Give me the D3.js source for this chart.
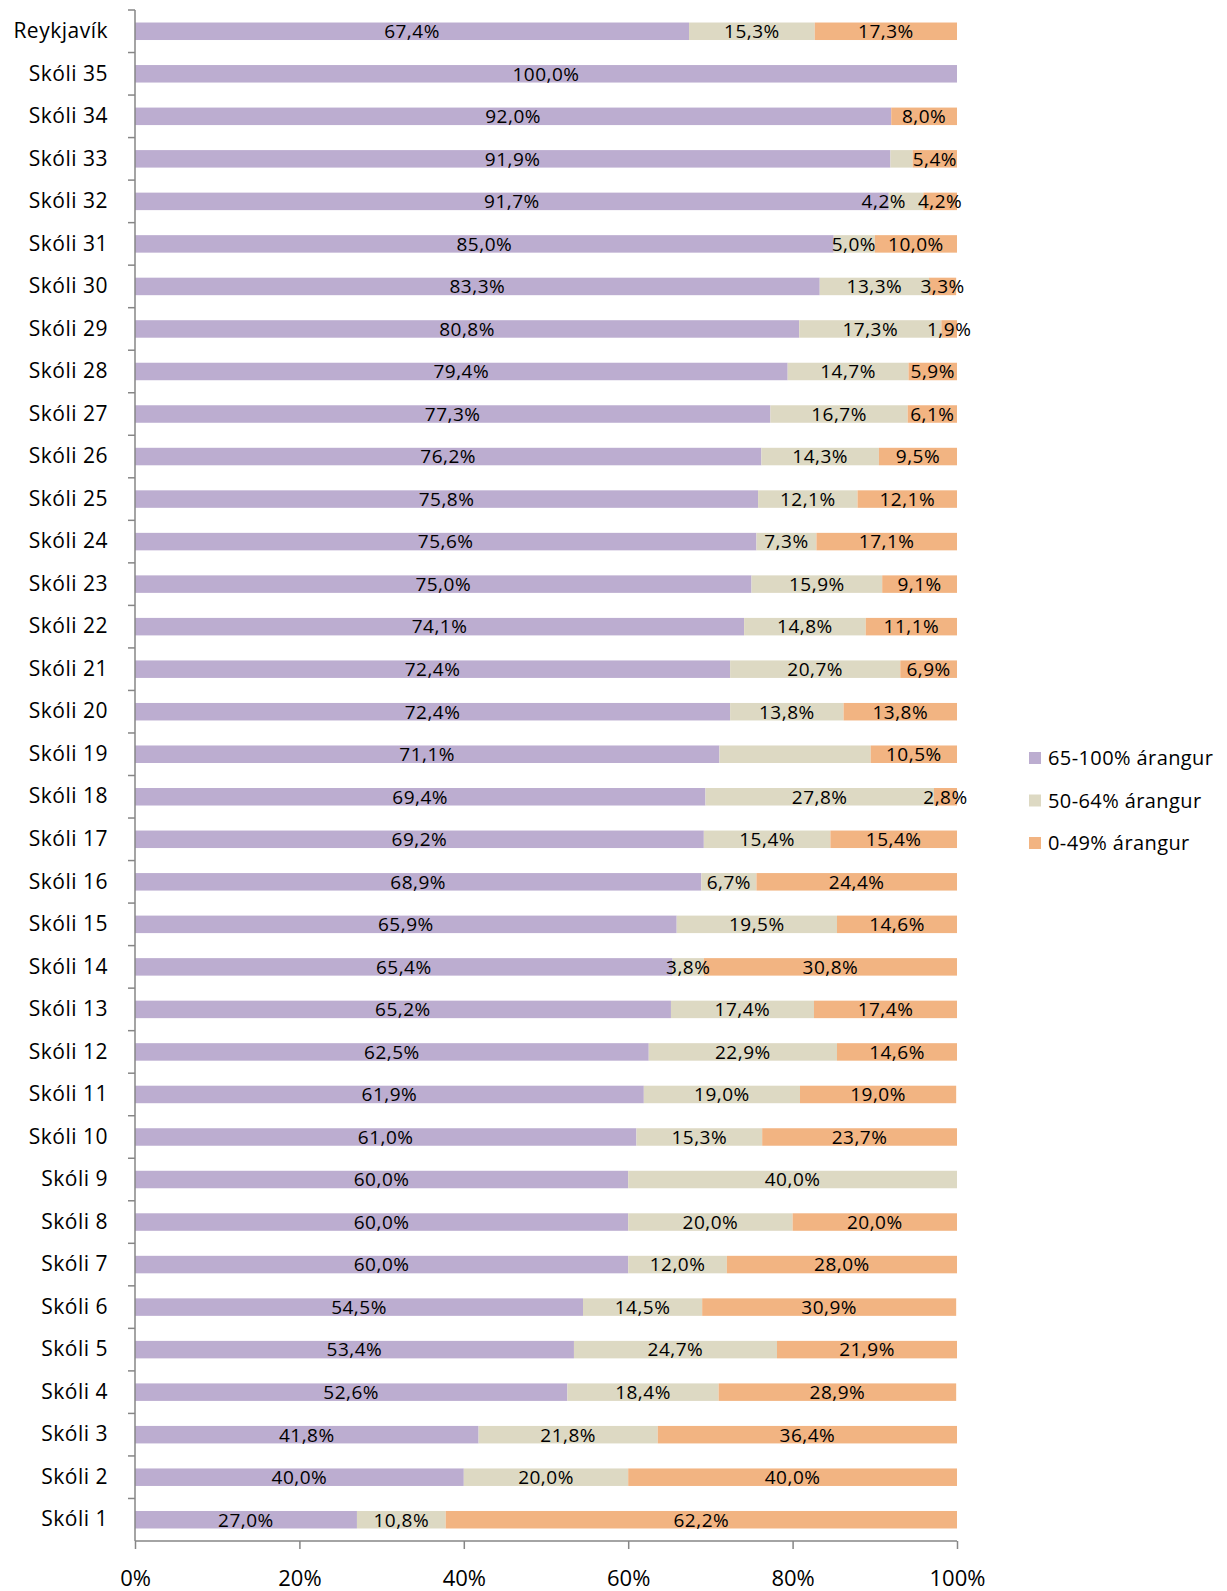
<html>
    <head>
        <title>Árangur skóla</title>
        <script src="https://cdnjs.cloudflare.com/ajax/libs/d3/7.8.5/d3.min.js"></script>
        <style>
            body {
                margin: 0;
                background-color: white;
            }
            text {
                font-family: "Open Sans", "Noto Sans", sans-serif;
                fill: black;
            }
            .axis path, .axis line {
                stroke: #868686;
                stroke-width: 1.5;
            }
        </style>
    </head>
    <body>
        <svg id="chart"></svg>
    </body>
    <script>

        const WIDTH = 1227
        const HEIGHT = 1591
        const MARGIN = {
                left: 135,
                top: 10,
                bottom: 50,
                right: 270
            }

        // top to bottom, as in the picture
        const schools = ["Reykjavík", "Skóli 35", "Skóli 34", "Skóli 33", "Skóli 32", "Skóli 31", "Skóli 30",
            "Skóli 29", "Skóli 28", "Skóli 27", "Skóli 26", "Skóli 25", "Skóli 24", "Skóli 23", "Skóli 22",
            "Skóli 21", "Skóli 20", "Skóli 19", "Skóli 18", "Skóli 17", "Skóli 16", "Skóli 15", "Skóli 14",
            "Skóli 13", "Skóli 12", "Skóli 11", "Skóli 10", "Skóli 9", "Skóli 8", "Skóli 7", "Skóli 6",
            "Skóli 5", "Skóli 4", "Skóli 3", "Skóli 2", "Skóli 1"]

        const high = [67.4, 100.0, 92.0, 91.9, 91.7, 85.0, 83.3, 80.8, 79.4, 77.3, 76.2, 75.8, 75.6, 75.0, 74.1,
            72.4, 72.4, 71.1, 69.4, 69.2, 68.9, 65.9, 65.4, 65.2, 62.5, 61.9, 61.0, 60.0, 60.0, 60.0, 54.5,
            53.4, 52.6, 41.8, 40.0, 27.0]
        const mid = [15.3, 0, 0, 2.7, 4.2, 5.0, 13.3, 17.3, 14.7, 16.7, 14.3, 12.1, 7.3, 15.9, 14.8,
            20.7, 13.8, 18.4, 27.8, 15.4, 6.7, 19.5, 3.8, 17.4, 22.9, 19.0, 15.3, 40.0, 20.0, 12.0, 14.5,
            24.7, 18.4, 21.8, 20.0, 10.8]
        const low = [17.3, 0, 8.0, 5.4, 4.2, 10.0, 3.3, 1.9, 5.9, 6.1, 9.5, 12.1, 17.1, 9.1, 11.1,
            6.9, 13.8, 10.5, 2.8, 15.4, 24.4, 14.6, 30.8, 17.4, 14.6, 19.0, 23.7, 0, 20.0, 28.0, 30.9,
            21.9, 28.9, 36.4, 40.0, 62.2]

        const seriesKeys = ["high", "mid", "low"]
        const seriesNames = ["65-100% árangur", "50-64% árangur", "0-49% árangur"]
        const seriesColors = ["#BCADD0", "#DDD9C3", "#F2B482"]
        const xTicks = [0, 20, 40, 60, 80, 100]
        // labels that the original leaves out
        const hiddenLabels = [["Skóli 33", "mid"], ["Skóli 19", "mid"]]

        function pct(v) {
            return v.toFixed(1).replace(".", ",") + "%"
        }

        function drawChart(data) {
            let svg = d3.select("#chart")
                .attr("width", WIDTH)
                .attr("height", HEIGHT)

            var xScale = d3.scaleLinear()
                .range([MARGIN.left, 957])
                .domain([0, 100])

            var yScale = d3.scaleBand()
                .range([MARGIN.top, HEIGHT - MARGIN.bottom])
                .domain(schools)

            var colorScale = d3.scaleOrdinal()
                .domain(seriesKeys)
                .range(seriesColors)

            const barH = 17.5

            let stacked = d3.stack().keys(seriesKeys)(data)

            let groups = svg.append("g")
                .selectAll("g")
                .data(stacked)
                .enter().append("g")
                .attr("fill", d => colorScale(d.key))

            groups.selectAll("rect")
                .data(d => d.map(p => ({key: d.key, school: p.data.school, x0: p[0], x1: p[1]})))
                .enter().append("rect")
                .filter(d => d.x1 - d.x0 > 0)
                .attr("x", d => xScale(d.x0))
                .attr("width", d => xScale(Math.min(d.x1, 100)) - xScale(d.x0))
                .attr("y", d => yScale(d.school) + yScale.bandwidth() / 2 - barH / 2)
                .attr("height", barH)

            // data labels
            let labels = []
            stacked.forEach(function(s, k) {
                s.forEach(function(p) {
                    let v = p[1] - p[0]
                    let hidden = hiddenLabels.some(h => h[0] == p.data.school && h[1] == s.key)
                    if (v > 0 && !hidden) {
                        labels.push({school: p.data.school, k: k, mid: (p[0] + Math.min(p[1], 100)) / 2, v: v})
                    }
                })
            })

            let labelText = svg.append("g")
                .selectAll("text")
                .data(labels)
                .enter().append("text")
                .attr("x", d => xScale(d.mid))
                .attr("y", d => yScale(d.school) + yScale.bandwidth() / 2)
                .attr("dy", "0.36em")
                .attr("text-anchor", "middle")
                .style("font-size", "19px")
                .style("letter-spacing", "0.5px")
                .text(d => pct(d.v))

            // push a label left when it runs into the next one on the same bar
            labelText.each(function(d) { d.cx = xScale(d.mid); d.w = this.getComputedTextLength() })
            schools.forEach(function(s) {
                let row = labels.filter(l => l.school == s).sort((a, b) => b.k - a.k)
                for (var i = 1; i < row.length; i++) {
                    let right = row[i].cx + row[i].w / 2
                    let limit = row[i - 1].cx - row[i - 1].w / 2 - 12
                    if (right > limit) row[i].cx -= right - limit
                }
            })
            labelText.attr("x", d => d.cx)

            //Axis
            let xAxis = d3.axisBottom()
                .scale(xScale)
                .tickValues(xTicks)
                .tickSize(8)
                .tickSizeOuter(0)
                .tickFormat(d => d + "%")

            let gx = svg.append("g")
                .attr("class", "x axis")
                .attr("transform", "translate(0," + (HEIGHT - MARGIN.bottom) + ")")
                .call(xAxis)
            gx.selectAll("text")
                .attr("y", 29)
                .attr("dy", "0.71em")
                .style("font-size", "22px")
                .style("font-family", "Open Sans")
            gx.select(".domain").attr("d", `M${xScale(0)},0H${xScale(100)}`)

            let yAxis = d3.axisLeft()
                .scale(yScale)
                .tickSize(0)
                .tickPadding(27)

            let gy = svg.append("g")
                .attr("class", "y axis")
                .attr("transform", "translate(" + MARGIN.left + ",0)")
                .call(yAxis)
            gy.selectAll("text")
                .style("font-size", "21px")
                .style("font-family", "Open Sans")
                .style("letter-spacing", "0.5px")
            gy.select(".domain").attr("d", `M0,${MARGIN.top}V${HEIGHT - MARGIN.bottom}`)

            // small ticks between the categories
            gy.selectAll(".sep")
                .data(schools)
                .enter().append("line")
                .attr("class", "sep")
                .attr("x1", -7).attr("x2", 0)
                .attr("y1", d => yScale(d)).attr("y2", d => yScale(d))

            // legend
            let legend = svg.append("g")
                .attr("transform", "translate(1029, 758)")
            let items = legend.selectAll("g")
                .data(seriesKeys)
                .enter().append("g")
                .attr("transform", (d, i) => `translate(0, ${i * 42.5})`)
            items.append("rect")
                .attr("x", 0).attr("y", -6)
                .attr("width", 12).attr("height", 12)
                .attr("fill", d => colorScale(d))
            items.append("text")
                .attr("x", 19)
                .attr("dy", "0.36em")
                .style("font-size", "20px")
                .style("letter-spacing", "0.4px")
                .text((d, i) => seriesNames[i])
        }

        function main() {
            let data = schools.map((s, i) => ({school: s, high: high[i], mid: mid[i], low: low[i]}))
            drawChart(data)
        }

        main()

    </script>
</html>
